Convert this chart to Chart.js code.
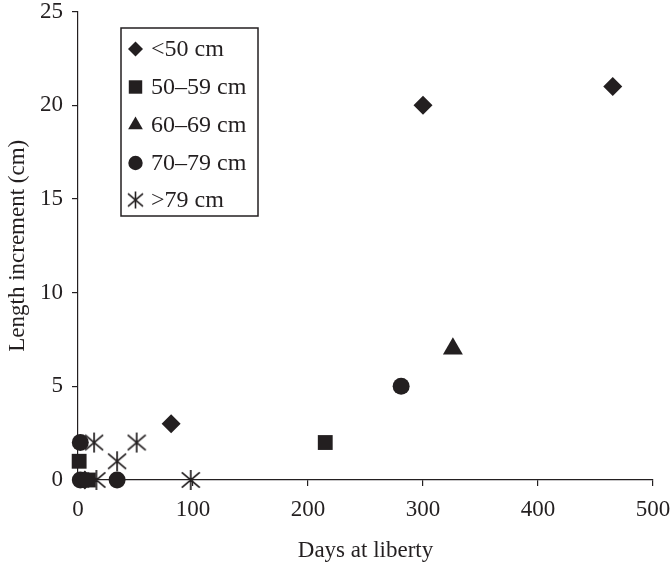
<!DOCTYPE html>
<html>
<head>
<meta charset="utf-8">
<script src="https://cdn.jsdelivr.net/npm/chart.js@4/dist/chart.umd.min.js"></script>
<style>
html,body{margin:0;padding:0;background:#fff;}
#wrap{width:671px;height:565px;}
</style>
</head>
<body>
<div id="wrap"><canvas id="c" width="671" height="565"></canvas></div>
<script>
// ---- data ----
const categories = ['<50 cm', '50\u201359 cm', '60\u201369 cm', '70\u201379 cm', '>79 cm'];
const lt50Days = [81, 300, 465, 6];
const lt50Inc  = [3, 20, 21, 0];
const s5059Days = [1, 215, 9];
const s5059Inc  = [1, 2, 0];
const s6069Days = [326];
const s6069Inc  = [7];
const s7079Days = [281, 2, 34, 2];
const s7079Inc  = [5, 2, 0, 0];
const gt79Days = [14, 34, 51, 98, 16];
const gt79Inc  = [2, 1, 2, 0, 0];
const xTicks = [0, 100, 200, 300, 400, 500];
const yTicks = [0, 5, 10, 15, 20, 25];
const xTitle = 'Days at liberty';
const yTitle = 'Length increment (cm)';

const INK = '#231f20';
const FONT = "'Liberation Serif', 'Times New Roman', serif";

function pts(xs, ys) { return xs.map((x, i) => ({x: x, y: ys[i]})); }

function makeStar(size, lw) {
  const c = document.createElement('canvas');
  c.width = size + 2; c.height = size + 4;
  const g = c.getContext('2d');
  const cx = c.width / 2, cy = c.height / 2, h = size / 2;
  g.strokeStyle = INK; g.lineWidth = lw;
  g.beginPath();
  g.moveTo(cx - h, cy - h * 0.85); g.lineTo(cx + h, cy + h * 0.85);
  g.moveTo(cx + h, cy - h * 0.85); g.lineTo(cx - h, cy + h * 0.85);
  g.moveTo(cx, cy - h - 1); g.lineTo(cx, cy + h + 1);
  g.stroke();
  return c;
}
const starPlot = makeStar(18, 1.7);
const starLegend = makeStar(15, 1.6);

const styles = [
  {pointStyle: 'rectRot', radius: 9.5, legendR: 7.5},
  {pointStyle: 'rect', radius: 10.5, legendR: 9.5},
  {pointStyle: 'triangle', radius: 11.5, legendR: 8.5},
  {pointStyle: 'circle', radius: 8.5, legendR: 7.2},
  {pointStyle: starPlot, radius: 9, legendR: 7.5, legendImg: starLegend}
];
const seriesData = [
  pts(lt50Days, lt50Inc), pts(s5059Days, s5059Inc), pts(s6069Days, s6069Inc),
  pts(s7079Days, s7079Inc), pts(gt79Days, gt79Inc)
];

const datasets = categories.map((label, i) => ({
  label: label,
  data: seriesData[i],
  pointStyle: styles[i].pointStyle,
  pointRadius: styles[i].radius,
  pointHoverRadius: styles[i].radius,
  backgroundColor: INK,
  borderColor: INK,
  borderWidth: 0,
  showLine: false,
  clip: false
}));

const legendBox = {
  id: 'legendBox',
  afterDraw(chart) {
    const ctx = chart.ctx;
    ctx.save();
    ctx.strokeStyle = INK;
    ctx.lineWidth = 1.5;
    ctx.fillStyle = '#fff';
    ctx.fillRect(121, 28, 137, 188);
    ctx.strokeRect(121, 28, 137, 188);
    const ys = [49, 87, 125, 163, 200];
    ctx.font = '24px ' + FONT;
    ctx.textBaseline = 'middle';
    ctx.textAlign = 'left';
    categories.forEach((label, i) => {
      const st = styles[i];
      const cx = 135.5, cy = ys[i];
      ctx.fillStyle = INK;
      if (st.legendImg) {
        ctx.drawImage(st.legendImg, cx - st.legendImg.width / 2, cy - st.legendImg.height / 2);
      } else if (Chart.helpers && Chart.helpers.drawPoint) {
        Chart.helpers.drawPoint(ctx, {pointStyle: st.pointStyle, radius: st.legendR, borderWidth: 0, rotation: 0}, cx, cy);
      }
      ctx.fillStyle = INK;
      ctx.fillText(label, 151, cy + 1);
    });
    ctx.restore();
  }
};

new Chart(document.getElementById('c'), {
  type: 'scatter',
  data: {datasets: datasets},
  options: {
    responsive: false,
    animation: false,
    events: [],
    layout: {padding: {top: 6, right: 18, bottom: 0, left: 0}},
    plugins: {legend: {display: false}, tooltip: {enabled: false}},
    scales: {
      x: {
        type: 'linear', min: 0, max: 500,
        afterBuildTicks: s => { s.ticks = xTicks.map(v => ({value: v})); },
        afterFit: s => { s.height = 85; s.paddingLeft = 0; s.paddingRight = 0; },
        border: {display: true, color: INK, width: 1.2},
        grid: {drawOnChartArea: false, drawTicks: true, tickLength: 6, color: INK, lineWidth: 1.2},
        ticks: {color: INK, font: {family: FONT, size: 23}, padding: 10, maxRotation: 0},
        title: {display: true, text: xTitle, color: INK, font: {family: FONT, size: 23}, padding: {top: 0, bottom: 0}}
      },
      y: {
        type: 'linear', min: 0, max: 25,
        afterBuildTicks: s => { s.ticks = yTicks.map(v => ({value: v})); },
        afterFit: s => { s.width = 78; s.paddingTop = 0; s.paddingBottom = 0; },
        border: {display: true, color: INK, width: 1.2},
        grid: {drawOnChartArea: false, drawTicks: true, tickLength: 6, color: INK, lineWidth: 1.2},
        ticks: {color: INK, font: {family: FONT, size: 23}, padding: 9},
        title: {display: true, text: yTitle, color: INK, font: {family: FONT, size: 23}, padding: {top: 4, bottom: 0}}
      }
    }
  },
  plugins: [legendBox]
});
</script>
</body>
</html>
